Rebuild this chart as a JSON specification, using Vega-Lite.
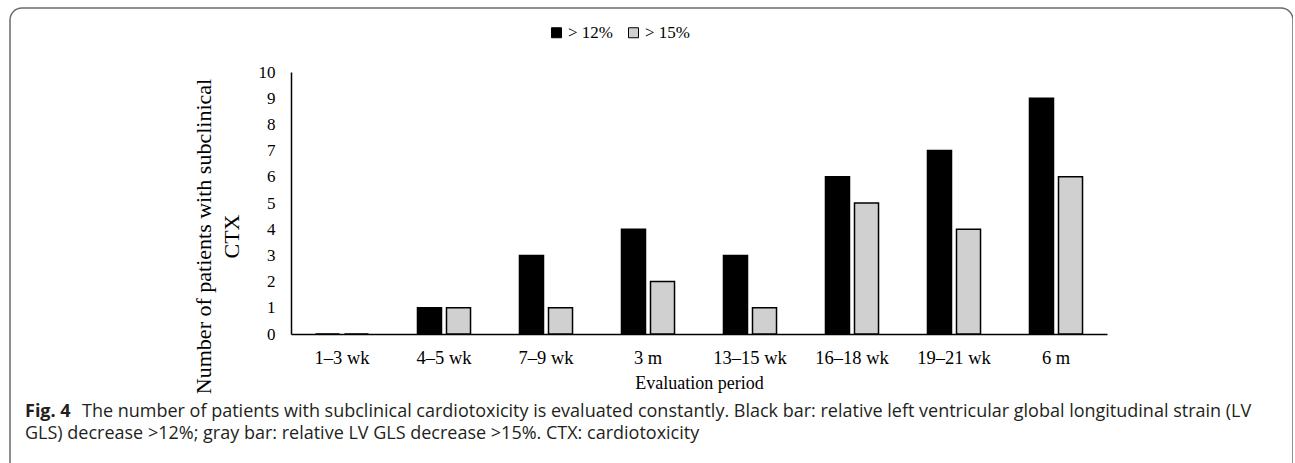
{
  "$schema": "https://vega.github.io/schema/vega-lite/v6.json",
  "width": 1283,
  "height": 480,
  "autosize": {"type": "none"},
  "padding": {"left": 10, "top": 8, "right": 0, "bottom": 0},
  "background": "white",
  "title": {
    "text": "Fig. 4",
    "subtitle": [
      "\u200b\u2003\u2003\u2003\u2009The number of patients with subclinical cardiotoxicity is evaluated constantly. Black bar: relative left ventricular global longitudinal strain (LV",
      "GLS) decrease >12%; gray bar: relative LV GLS decrease >15%. CTX: cardiotoxicity"
    ],
    "orient": "bottom",
    "anchor": "start",
    "frame": "group",
    "offset": -85,
    "dx": 15,
    "font": "Open Sans",
    "fontSize": 18,
    "fontWeight": "bold",
    "color": "#231f20",
    "subtitleFont": "Open Sans",
    "subtitleFontSize": 18,
    "subtitleColor": "#231f20",
    "subtitlePadding": -18,
    "subtitleLineHeight": 22
  },
  "data": {
    "values": [
      {"period": "1–3 wk", "threshold": "> 12%", "count": 0},
      {"period": "1–3 wk", "threshold": "> 15%", "count": 0},
      {"period": "4–5 wk", "threshold": "> 12%", "count": 1},
      {"period": "4–5 wk", "threshold": "> 15%", "count": 1},
      {"period": "7–9 wk", "threshold": "> 12%", "count": 3},
      {"period": "7–9 wk", "threshold": "> 15%", "count": 1},
      {"period": "3 m", "threshold": "> 12%", "count": 4},
      {"period": "3 m", "threshold": "> 15%", "count": 2},
      {"period": "13–15 wk", "threshold": "> 12%", "count": 3},
      {"period": "13–15 wk", "threshold": "> 15%", "count": 1},
      {"period": "16–18 wk", "threshold": "> 12%", "count": 6},
      {"period": "16–18 wk", "threshold": "> 15%", "count": 5},
      {"period": "19–21 wk", "threshold": "> 12%", "count": 7},
      {"period": "19–21 wk", "threshold": "> 15%", "count": 4},
      {"period": "6 m", "threshold": "> 12%", "count": 9},
      {"period": "6 m", "threshold": "> 15%", "count": 6}
    ]
  },
  "mark": {"type": "bar", "stroke": "black", "strokeWidth": 1.5},
  "encoding": {
    "x": {
      "field": "period",
      "type": "nominal",
      "sort": ["1–3 wk", "4–5 wk", "7–9 wk", "3 m", "13–15 wk", "16–18 wk", "19–21 wk", "6 m"],
      "scale": {"range": [281, 1097], "paddingInner": 0.48, "paddingOuter": 0.24},
      "axis": {
        "orient": "bottom",
        "offset": -154,
        "title": "Evaluation period",
        "titlePadding": 8,
        "labelAngle": 0,
        "ticks": false,
        "tickSize": 0,
        "labelPadding": 14,
        "domainColor": "black",
        "domainWidth": 1.5,
        "labelFont": "Liberation Serif",
        "labelFontSize": 18.5,
        "labelColor": "black",
        "titleFont": "Liberation Serif",
        "titleFontSize": 18,
        "titleFontWeight": "normal",
        "titleColor": "black"
      }
    },
    "xOffset": {"field": "threshold", "type": "nominal", "scale": {"paddingInner": 0.172}},
    "y": {
      "field": "count",
      "type": "quantitative",
      "scale": {"domain": [0, 10], "range": [326, 64]},
      "axis": {
        "orient": "left",
        "offset": -281,
        "title": ["Number of patients with subclinical", "CTX"],
        "values": [0, 1, 2, 3, 4, 5, 6, 7, 8, 9, 10],
        "grid": false,
        "ticks": false,
        "tickSize": 0,
        "labelPadding": 16,
        "domainColor": "black",
        "domainWidth": 1.5,
        "labelFont": "Liberation Serif",
        "labelFontSize": 17,
        "labelColor": "black",
        "titleFont": "Liberation Serif",
        "titleFontSize": 22,
        "titleFontWeight": "normal",
        "titleColor": "black",
        "titleLineHeight": 28,
        "titlePadding": 15,
        "titleY": 228
      }
    },
    "color": {
      "field": "threshold",
      "type": "nominal",
      "scale": {"domain": ["> 12%", "> 15%"], "range": ["#000000", "#d0d0d0"]},
      "legend": {
        "title": null,
        "orient": "none",
        "direction": "horizontal",
        "legendX": 538,
        "legendY": 16,
        "symbolType": "square",
        "symbolSize": 100,
        "symbolStrokeColor": "black",
        "symbolStrokeWidth": 1,
        "labelFont": "Liberation Serif",
        "labelFontSize": 17,
        "labelColor": "black",
        "labelOffset": 3,
        "columnPadding": 12
      }
    }
  },
  "config": {
    "view": {"stroke": "#6b6b6b", "strokeWidth": 1.5, "cornerRadius": 12, "fill": "white"}
  }
}
